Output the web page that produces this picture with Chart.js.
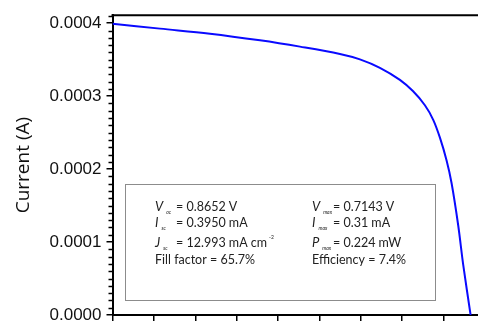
<!DOCTYPE html>
<html>
<head>
<meta charset="utf-8">
<script src="https://cdn.jsdelivr.net/npm/chart.js@4"></script>
<style>
  html, body { margin: 0; padding: 0; background: #fff; }
  #wrap { width: 478px; height: 321px; overflow: hidden; position: relative; }
  canvas { display: block; }
</style>
</head>
<body>
<div id="wrap"><canvas id="ivChart" width="500" height="335"></canvas></div>
<script>
// ---- data ----
const voltage = [0, 0.1147, 0.2355, 0.3563, 0.4529, 0.5495, 0.5978, 0.6461, 0.6944,
  0.7258, 0.7548, 0.7749, 0.7911, 0.8072, 0.8193, 0.8353, 0.8473, 0.8652];
const current = [0.0003993, 0.0003926, 0.0003857, 0.0003766, 0.0003679, 0.0003579,
  0.0003505, 0.0003389, 0.0003224, 0.0003070, 0.0002876, 0.0002676, 0.0002431,
  0.0002118, 0.0001806, 0.0001227, 0.0000692, 0];

const yTicks = [0, 0.0001, 0.0002, 0.0003, 0.0004];
const xTicks = [0, 0.1, 0.2, 0.3, 0.4, 0.5, 0.6, 0.7, 0.8, 0.9];

// parameter box: [symbol, subscript, rest, superscript]
const leftParams = [
  ['V', 'oc', '= 0.8652 V', ''],
  ['I', 'sc', '= 0.3950 mA', ''],
  ['J', 'sc', '= 12.993 mA cm', '-2'],
  ['', '', 'Fill factor = 65.7%', '']
];
const rightParams = [
  ['V', 'max', '= 0.7143 V', ''],
  ['I', 'max', '= 0.31 mA', ''],
  ['P', 'max', '= 0.224 mW', ''],
  ['', '', 'Efficiency = 7.4%', '']
];

const points = voltage.map((v, i) => ({ x: v, y: current[i] }));

// minor y ticks + top frame line
const framePlugin = {
  id: 'frame',
  afterDraw(chart) {
    const ctx = chart.ctx;
    const area = chart.chartArea;
    const y = chart.scales.y;
    ctx.save();
    ctx.strokeStyle = '#000';
    ctx.lineWidth = 2;
    ctx.beginPath();
    ctx.moveTo(area.left - 1, area.top);
    ctx.lineTo(area.right, area.top);
    ctx.stroke();
    ctx.lineWidth = 1.5;
    for (let k = 0; k <= 41; k++) {
      if (k % 10 === 0) continue;
      const py = Math.round(y.getPixelForValue(k * 0.00001)) + 0.5;
      ctx.beginPath();
      ctx.moveTo(area.left - 4, py);
      ctx.lineTo(area.left, py);
      ctx.stroke();
    }
    ctx.restore();
  }
};

const boxPlugin = {
  id: 'paramBox',
  afterDraw(chart) {
    const ctx = chart.ctx;
    ctx.save();
    ctx.fillStyle = '#fff';
    ctx.fillRect(125, 184, 310, 116);
    ctx.strokeStyle = '#8c8c8c';
    ctx.lineWidth = 1;
    ctx.strokeRect(125.5, 184.5, 310, 116);

    const rows = [211, 226.5, 247, 264];
    const drawCol = (list, x0, eqX) => {
      list.forEach((p, i) => {
        const base = rows[i];
        ctx.fillStyle = '#222';
        ctx.textBaseline = 'alphabetic';
        if (!p[0]) {
          ctx.font = '12.5px Lato, "Liberation Sans", sans-serif';
          ctx.fillText(p[2], x0, base);
          return;
        }
        ctx.font = 'italic 13px Lato, "Liberation Sans", sans-serif';
        ctx.fillText(p[0], x0, base);
        const w = ctx.measureText(p[0]).width;
        ctx.font = 'italic 5px Lato, "Liberation Sans", sans-serif';
        ctx.fillText(p[1], x0 + w + 3, base + 3);
        ctx.font = '12.5px Lato, "Liberation Sans", sans-serif';
        ctx.fillText(p[2], eqX, base);
        if (p[3]) {
          const w2 = ctx.measureText(p[2]).width;
          ctx.font = '5px Lato, "Liberation Sans", sans-serif';
          ctx.fillText(p[3], eqX + w2 + 2, base - 8);
        }
      });
    };
    drawCol(leftParams, 155, 176);
    drawCol(rightParams, 312, 333);
    ctx.restore();
  }
};

new Chart(document.getElementById('ivChart').getContext('2d'), {
  type: 'line',
  data: {
    datasets: [{
      data: points,
      borderColor: '#0a0aff',
      borderWidth: 2,
      pointRadius: 0,
      fill: false,
      tension: 0.35
    }]
  },
  options: {
    responsive: false,
    animation: false,
    events: [],
    layout: { padding: { top: 8, right: 15, left: 0, bottom: 0 } },
    plugins: { legend: { display: false }, tooltip: { enabled: false } },
    scales: {
      x: {
        type: 'linear',
        min: 0,
        max: 0.9,
        afterBuildTicks: s => { s.ticks = xTicks.map(v => ({ value: v })); },
        afterFit: s => { s.height = 20; },
        ticks: { display: false },
        grid: { drawOnChartArea: false, drawTicks: true, tickLength: 6, color: '#000', lineWidth: 1.5 },
        border: { display: true, color: '#000', width: 2 }
      },
      y: {
        type: 'linear',
        min: 0,
        max: 0.000411,
        afterBuildTicks: s => { s.ticks = yTicks.map(v => ({ value: v })); },
        afterFit: s => { s.width = 112.5; },
        ticks: {
          color: '#111',
          padding: 5,
          font: { family: '"Liberation Sans", Arial, sans-serif', size: 17 },
          callback: v => v.toFixed(4)
        },
        grid: { drawOnChartArea: false, drawTicks: true, tickLength: 6, color: '#000', lineWidth: 1.5 },
        border: { display: true, color: '#000', width: 2 },
        title: {
          display: true,
          text: 'Current (A)',
          color: '#111',
          padding: { top: 12, bottom: 0 },
          font: { family: '"Open Sans", "Liberation Sans", sans-serif', size: 19 }
        }
      }
    }
  },
  plugins: [framePlugin, boxPlugin]
});
</script>
</body>
</html>
